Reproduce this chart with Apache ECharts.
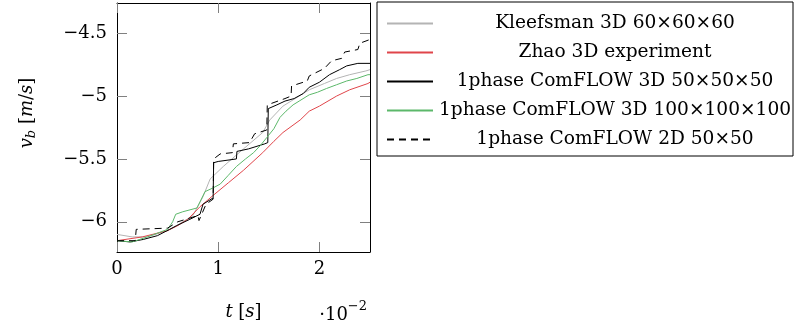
<!DOCTYPE html>
<html>
<head>
<meta charset="utf-8">
<script src="https://cdn.jsdelivr.net/npm/echarts@6/dist/echarts.min.js"></script>
<style>
html, body { margin: 0; padding: 0; background: #fff; }
#main { width: 794px; height: 327px; }
</style>
</head>
<body>
<div id="main"></div>
<script>
// series names (legend order)
var seriesNames = [
    'Kleefsman 3D 60×60×60',
    'Zhao 3D experiment',
    '1phase ComFLOW 3D 50×50×50',
    '1phase ComFLOW 3D 100×100×100',
    '1phase ComFLOW 2D 50×50'
];

// [t (s), v_b (m/s)]
var kleefsman = [[0, -6.10], [0.0015, -6.12], [0.003, -6.12], [0.005, -6.07], [0.0059, -6.03], [0.0075, -5.95],
    [0.0085, -5.80], [0.0092, -5.66], [0.0105, -5.56], [0.0125, -5.42], [0.0144, -5.29], [0.0151, -5.19],
    [0.0164, -5.08], [0.0176, -5.02], [0.019, -4.95], [0.0205, -4.90], [0.0217, -4.86], [0.023, -4.83],
    [0.0246, -4.80], [0.025, -4.79]];

var zhao = [[0, -6.15], [0.0025, -6.12], [0.005, -6.07], [0.006, -6.03], [0.007, -5.98], [0.0082, -5.88],
    [0.0095, -5.79], [0.011, -5.69], [0.0125, -5.59], [0.0144, -5.45], [0.0155, -5.36], [0.0164, -5.29],
    [0.0181, -5.19], [0.019, -5.12], [0.020, -5.08], [0.0217, -5.00], [0.023, -4.95], [0.0248, -4.90],
    [0.025, -4.89]];

var comflow3d50 = [[0, -6.15], [0.0013, -6.16], [0.0026, -6.14], [0.004, -6.11], [0.0052, -6.06], [0.0059, -6.03],
    [0.0072, -5.98], [0.0082, -5.94], [0.0085, -5.86], [0.0095, -5.81], [0.00955, -5.53], [0.010, -5.52],
    [0.0118, -5.50], [0.01185, -5.44], [0.013, -5.42], [0.0146, -5.38], [0.0149, -5.37], [0.01495, -5.10],
    [0.0158, -5.07], [0.0166, -5.04], [0.0175, -5.02], [0.0184, -4.98], [0.019, -4.93], [0.020, -4.89],
    [0.021, -4.83], [0.022, -4.79], [0.0227, -4.76], [0.0238, -4.74], [0.025, -4.74]];

var comflow3d100 = [[0, -6.15], [0.0015, -6.16], [0.003, -6.12], [0.005, -6.06], [0.0055, -6.00], [0.0058, -5.94],
    [0.0065, -5.92], [0.0079, -5.89], [0.0087, -5.76], [0.0095, -5.73], [0.0102, -5.70], [0.011, -5.63],
    [0.0118, -5.56], [0.0127, -5.50], [0.0135, -5.45], [0.0142, -5.39], [0.0148, -5.33], [0.0155, -5.26],
    [0.0161, -5.17], [0.0167, -5.12], [0.0174, -5.07], [0.018, -5.04], [0.019, -4.99], [0.0198, -4.97],
    [0.0207, -4.94], [0.0217, -4.91], [0.0227, -4.88], [0.0237, -4.86], [0.0248, -4.83], [0.025, -4.83]];

var comflow2d50 = [[0, -6.15], [0.0018, -6.15], [0.0019, -6.06], [0.005, -6.05], [0.006, -6.00], [0.008, -5.95],
    [0.0081, -5.99], [0.0088, -5.86], [0.0095, -5.82], [0.00955, -5.50], [0.0102, -5.46], [0.0114, -5.45],
    [0.0115, -5.38], [0.0131, -5.37], [0.0136, -5.30], [0.0148, -5.27], [0.01485, -5.07], [0.0166, -5.02],
    [0.0172, -5.00], [0.01725, -4.92], [0.0188, -4.88], [0.019, -4.84], [0.0205, -4.78], [0.0212, -4.72],
    [0.0222, -4.70], [0.0225, -4.65], [0.0238, -4.63], [0.024, -4.58], [0.025, -4.55]];

var xTicks = [0, 0.01, 0.02];
var yTicks = [-6, -5.5, -5, -4.5];

var fontName = 'DejaVu Serif';
var tickColor = '#808080';

function yLabel(v) {
    return String(v).replace('-', '\u2212');
}

var myChart = echarts.init(document.getElementById('main'));

function makeLine(name, data, color, dashed) {
    return {
        name: name,
        type: 'line',
        data: data,
        symbol: 'none',
        animation: false,
        lineStyle: {
            color: color,
            width: 1,
            type: dashed ? [7, 5] : 'solid'
        },
        itemStyle: { color: color }
    };
}

var option = {
    animation: false,
    textStyle: { fontFamily: fontName },
    grid: {
        left: 117,
        right: 424,
        top: 3,
        bottom: 74,
        containLabel: false
    },
    legend: {
        orient: 'vertical',
        left: 377,
        top: 2,
        padding: [12, 1, 7, 9],
        itemGap: 10,
        itemWidth: 46,
        itemHeight: 14,
        borderColor: '#000',
        borderWidth: 1,
        selectedMode: false,
        itemStyle: { opacity: 0 },
        data: seriesNames,
        formatter: function (name) {
            return '{c|' + name + '}';
        },
        textStyle: {
            rich: {
                c: {
                    width: 354,
                    align: 'center',
                    fontFamily: fontName,
                    fontSize: 18.6,
                    lineHeight: 20,
                    color: '#000'
                }
            }
        }
    },
    xAxis: [{
        type: 'value',
        position: 'bottom',
        min: 0,
        max: 0.025,
        interval: 0.01,
        name: '{i|t} [{i|s}]',
        nameLocation: 'middle',
        nameGap: 50,
        nameTextStyle: {
            rich: {
                i: { fontFamily: fontName, fontSize: 18, fontStyle: 'italic', color: '#000' }
            },
            fontFamily: fontName,
            fontSize: 18,
            color: '#000',
            lineHeight: 20
        },
        axisLine: { show: true, onZero: false, lineStyle: { color: '#000', width: 1 } },
        axisTick: { show: true, inside: true, length: 10, customValues: xTicks, lineStyle: { color: tickColor } },
        axisLabel: {
            margin: 8,
            fontFamily: fontName,
            fontSize: 18,
            color: '#000',
            customValues: xTicks,
            formatter: function (v) { return String(Math.round(v * 100)); }
        },
        splitLine: { show: false }
    }, {
        type: 'value',
        position: 'top',
        min: 0,
        max: 0.025,
        interval: 0.01,
        axisLine: { show: true, onZero: false, lineStyle: { color: '#000', width: 1 } },
        axisTick: { show: true, inside: true, length: 10, customValues: xTicks, lineStyle: { color: tickColor } },
        axisLabel: { show: false, customValues: xTicks },
        splitLine: { show: false }
    }],
    yAxis: [{
        type: 'value',
        position: 'left',
        min: -6.24,
        max: -4.26,
        axisLine: { show: true, onZero: false, lineStyle: { color: '#000', width: 1 } },
        axisTick: { show: true, inside: true, length: 10, customValues: yTicks, lineStyle: { color: tickColor } },
        axisLabel: {
            margin: 10,
            fontFamily: fontName,
            fontSize: 18,
            color: '#000',
            customValues: yTicks,
            formatter: yLabel
        },
        splitLine: { show: false }
    }, {
        type: 'value',
        position: 'right',
        min: -6.24,
        max: -4.26,
        axisLine: { show: true, onZero: false, lineStyle: { color: '#000', width: 1 } },
        axisTick: { show: true, inside: true, length: 10, customValues: yTicks, lineStyle: { color: tickColor } },
        axisLabel: { show: false, customValues: yTicks },
        splitLine: { show: false }
    }],
    graphic: [{
        type: 'text',
        x: 27,
        y: 113,
        rotation: Math.PI / 2,
        style: {
            text: '{i|v}{s|b} [{i|m}/{i|s}]',
            align: 'center',
            verticalAlign: 'middle',
            fill: '#000',
            font: '18px "DejaVu Serif"',
            rich: {
                i: { fontFamily: fontName, fontSize: 18, fontStyle: 'italic', lineHeight: 22 },
                s: { fontFamily: fontName, fontSize: 13, fontStyle: 'italic', verticalAlign: 'bottom', lineHeight: 22 }
            }
        }
    }, {
        type: 'text',
        x: 367,
        y: 312,
        style: {
            text: '{a|·10}{b|\u22122}',
            align: 'right',
            verticalAlign: 'middle',
            fill: '#000',
            rich: {
                a: { fontFamily: fontName, fontSize: 18, lineHeight: 24, verticalAlign: 'bottom' },
                b: { fontFamily: fontName, fontSize: 13, lineHeight: 24, verticalAlign: 'top' }
            }
        }
    }],
    series: [
        makeLine(seriesNames[0], kleefsman, '#b4b4b4', false),
        makeLine(seriesNames[1], zhao, '#e0454a', false),
        makeLine(seriesNames[2], comflow3d50, '#000000', false),
        makeLine(seriesNames[3], comflow3d100, '#5cb86a', false),
        makeLine(seriesNames[4], comflow2d50, '#000000', true)
    ]
};

myChart.setOption(option);
</script>
</body>
</html>
